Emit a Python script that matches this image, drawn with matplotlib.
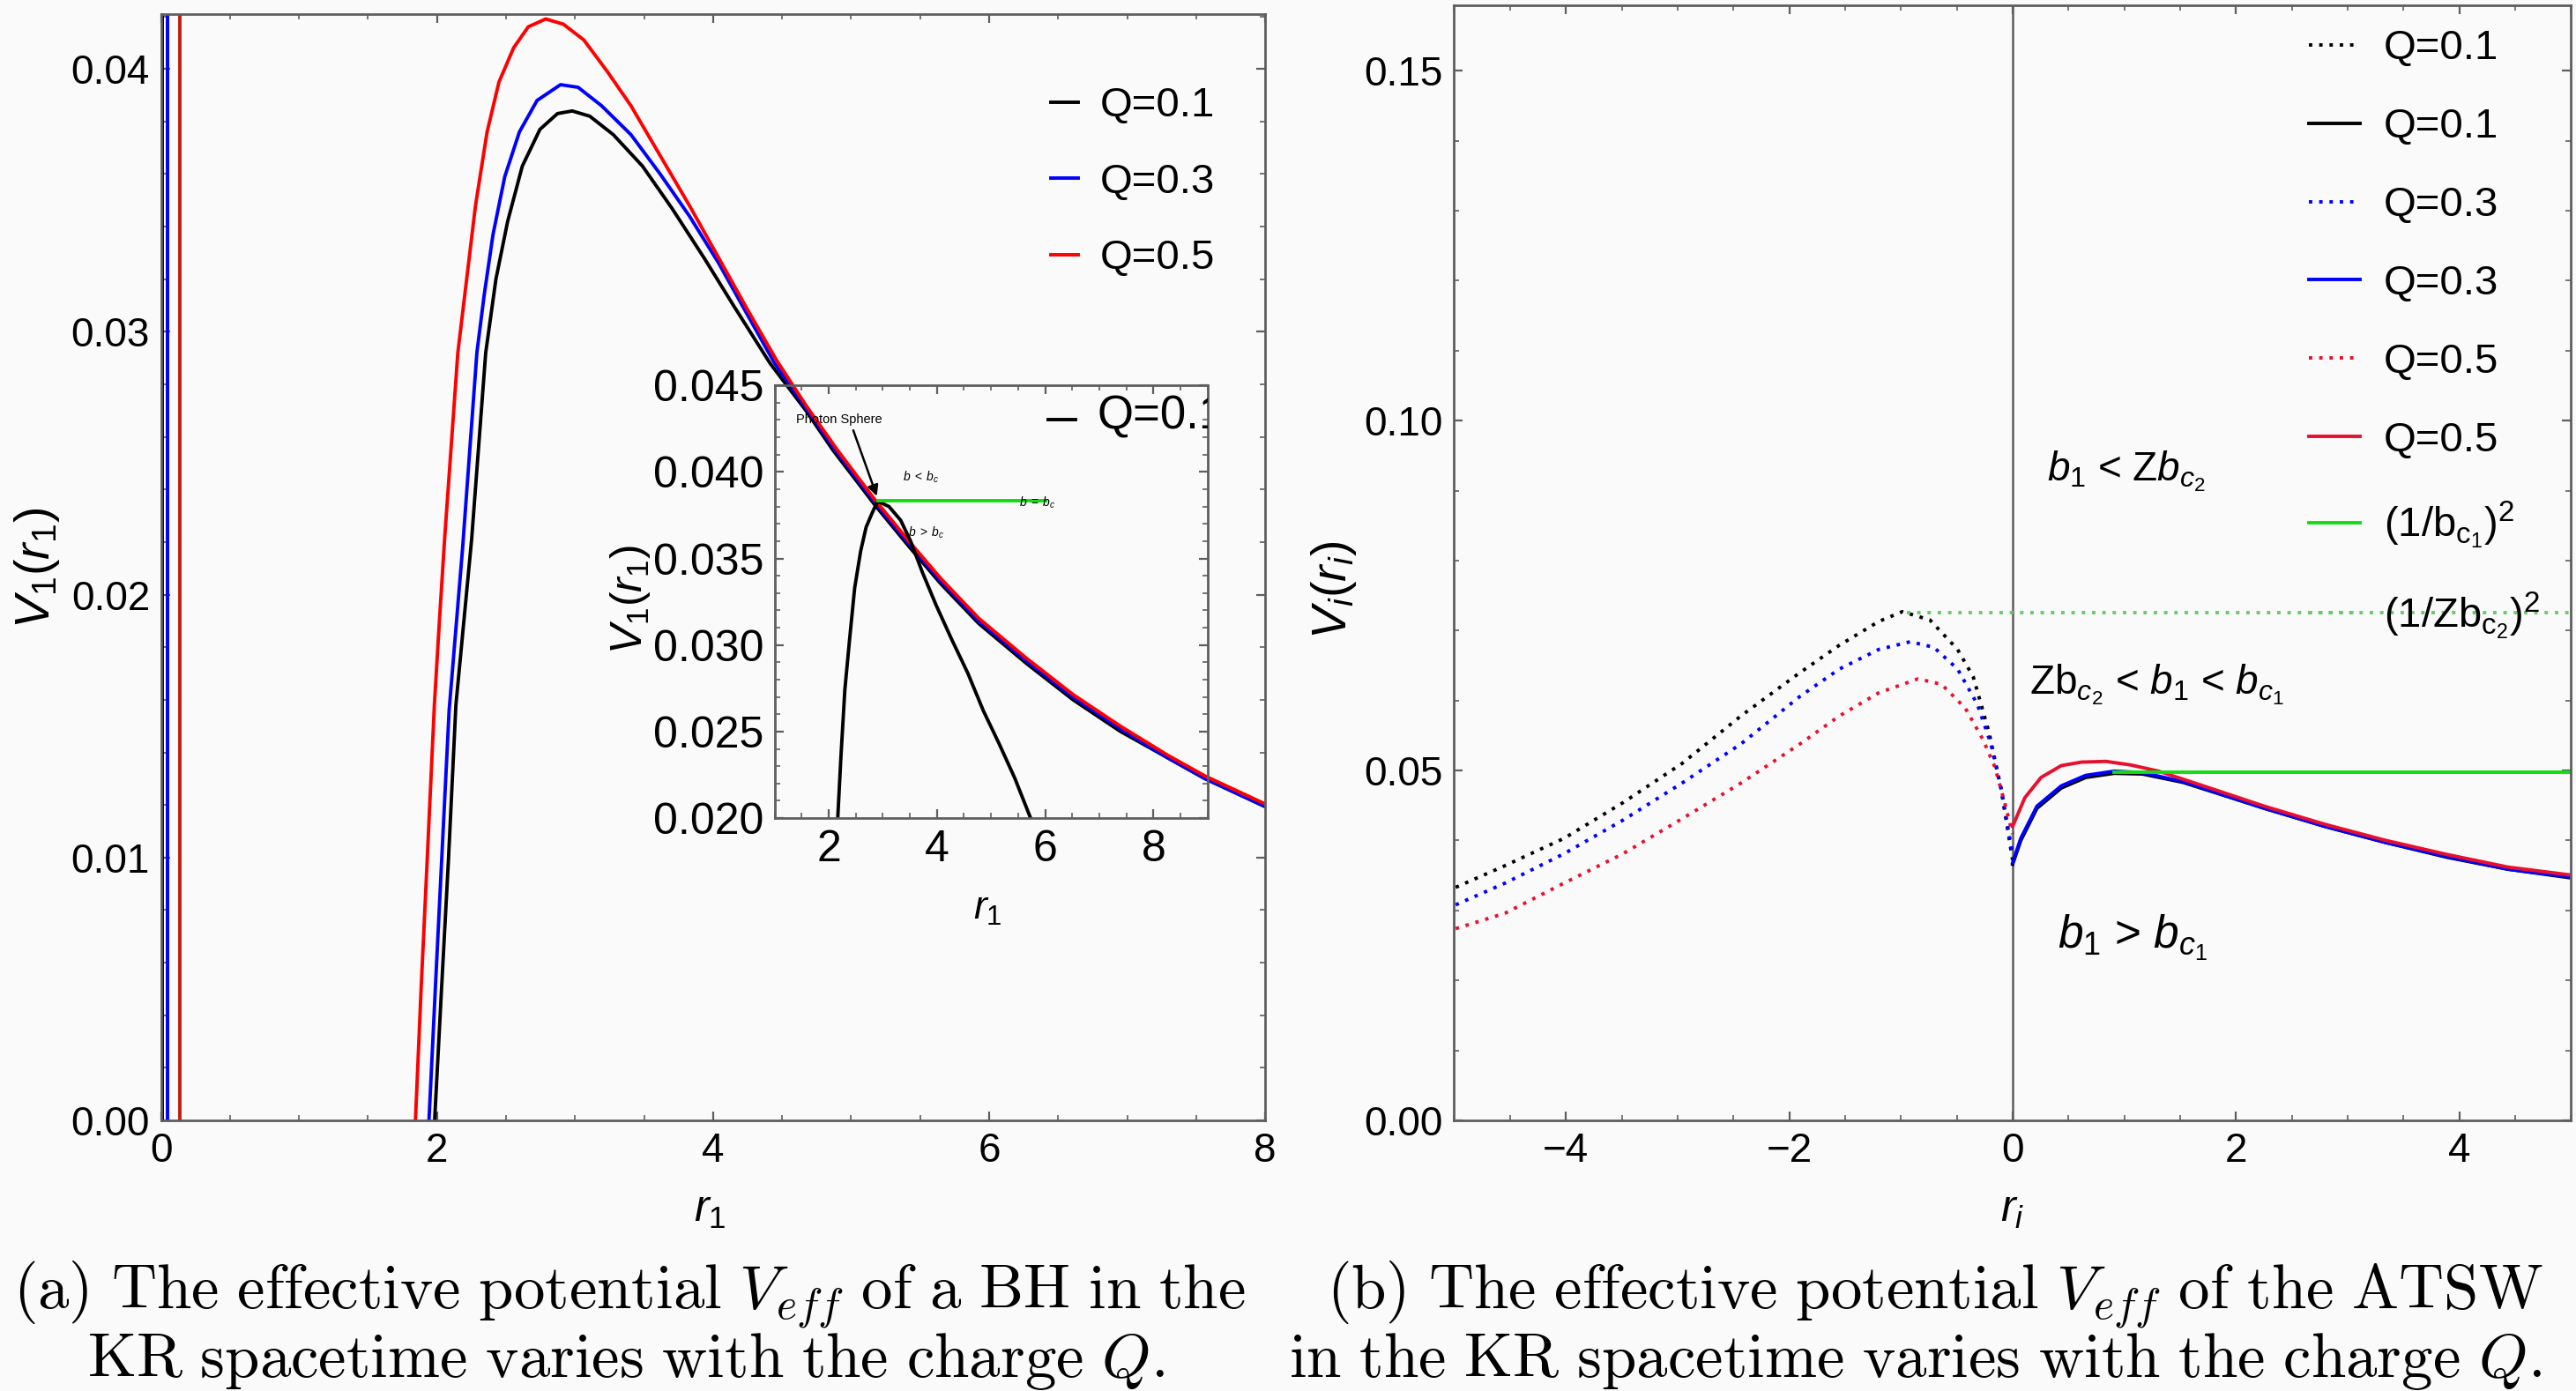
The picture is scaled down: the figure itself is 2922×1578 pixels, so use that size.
import numpy as np
import matplotlib.pyplot as plt
from matplotlib.ticker import MultipleLocator, FormatStrFormatter
from matplotlib.lines import Line2D

plt.rcParams['font.family'] = ['Liberation Sans', 'DejaVu Sans']
plt.rcParams['mathtext.fontset'] = 'custom'
plt.rcParams['mathtext.rm'] = 'Liberation Sans'
plt.rcParams['mathtext.it'] = 'Liberation Sans:italic'
plt.rcParams['mathtext.bf'] = 'Liberation Sans:bold'

# --- (a) BH potential ---
r1_q1 = [1.983, 2.033, 2.083, 2.137, 2.251, 2.353, 2.427, 2.512, 2.618, 2.746, 2.873,
         2.980, 3.107, 3.277, 3.489, 3.702, 3.936, 4.148, 4.413, 4.673, 4.868, 5.174,
         5.424, 5.652, 5.925, 6.266, 6.608, 6.950, 7.291, 7.564, 8.015]
V1_q1 = [0.0, 0.0050, 0.0099, 0.0158, 0.0221, 0.0292, 0.0320, 0.0342, 0.0363, 0.0377, 0.0383,
         0.0384, 0.0382, 0.0375, 0.0363, 0.0347, 0.0328, 0.0310, 0.0288, 0.0270, 0.0255, 0.0234,
         0.0218, 0.0204, 0.0189, 0.0174, 0.0160, 0.0148, 0.0138, 0.0130, 0.0119]
r1_q3 = [1.942, 1.988, 2.034, 2.088, 2.186, 2.289, 2.342, 2.406, 2.491, 2.597, 2.725,
         2.895, 3.022, 3.192, 3.405, 3.617, 3.829, 4.042, 4.254, 4.446, 4.673, 4.885,
         5.174, 5.424, 5.652, 5.925, 6.266, 6.608, 6.950, 7.291, 7.564, 8.015]
V1_q3 = [0.0, 0.0050, 0.0099, 0.0156, 0.0218, 0.0292, 0.0314, 0.0337, 0.0359, 0.0376, 0.0388,
         0.0394, 0.0393, 0.0386, 0.0375, 0.0360, 0.0344, 0.0326, 0.0306, 0.0288, 0.0271, 0.0255,
         0.0235, 0.0219, 0.0205, 0.0190, 0.0175, 0.0161, 0.0149, 0.0138, 0.0130, 0.0119]
r1_q5 = [1.844, 1.885, 1.929, 1.981, 2.020, 2.055, 2.151, 2.215, 2.279, 2.363, 2.449,
         2.555, 2.661, 2.788, 2.916, 3.064, 3.234, 3.405, 3.617, 3.829, 4.042, 4.254,
         4.462, 4.673, 4.901, 5.174, 5.424, 5.652, 5.925, 6.266, 6.608, 6.950, 7.291,
         7.564, 8.015]
V1_q5 = [0.0, 0.0050, 0.0099, 0.0158, 0.0192, 0.0221, 0.0292, 0.0320, 0.0348, 0.0376, 0.0395,
         0.0408, 0.0416, 0.0419, 0.0417, 0.0411, 0.0399, 0.0386, 0.0367, 0.0348, 0.0328, 0.0308,
         0.0289, 0.0272, 0.0255, 0.0236, 0.0220, 0.0206, 0.0191, 0.0176, 0.0162, 0.0150, 0.0139,
         0.0131, 0.0120]
wall_r = [0.01, 0.045, 0.135]          # near-vertical branches close to r=0

# inset
ri_b = [2.167, 2.225, 2.298, 2.385, 2.480, 2.589, 2.691, 2.785, 2.858, 2.909,
        3.113, 3.331, 3.513, 3.731, 3.985, 4.276, 4.567, 4.858, 5.149, 5.440, 5.731]
Vi_b = [0.0200, 0.0235, 0.0274, 0.0303, 0.0333, 0.0354, 0.0368, 0.0375, 0.0380, 0.0383,
        0.0380, 0.0372, 0.0360, 0.0342, 0.0323, 0.0303, 0.0284, 0.0262, 0.0243, 0.0223, 0.0200]
ri_green = [2.91, 6.0]
Vi_green = [0.03835, 0.03835]

# --- (b) ATSW potential ---
rn_q1 = [-4.986, -4.545, -4.017, -3.489, -2.960, -2.432, -1.903, -1.551, -1.198, -0.987,
         -0.740, -0.493, -0.353, -0.212, -0.106, 0.0]
Vn_q1 = [0.0333, 0.0364, 0.0403, 0.0454, 0.0510, 0.0578, 0.0640, 0.0679, 0.0713, 0.0727,
         0.0715, 0.0673, 0.0634, 0.0555, 0.0476, 0.0372]
rn_q3 = [-4.986, -4.545, -4.017, -3.489, -2.960, -2.432, -1.903, -1.551, -1.198, -0.916,
         -0.705, -0.493, -0.317, -0.194, -0.099, 0.0]
Vn_q3 = [0.0308, 0.0339, 0.0381, 0.0429, 0.0482, 0.0538, 0.0606, 0.0645, 0.0673, 0.0684,
         0.0676, 0.0645, 0.0595, 0.0538, 0.0471, 0.0380]
rn_q5 = [-4.986, -4.545, -4.017, -3.489, -2.960, -2.432, -1.903, -1.551, -1.198, -0.846,
         -0.635, -0.423, -0.265, -0.159, -0.071, 0.0]
Vn_q5 = [0.0274, 0.0296, 0.0339, 0.0381, 0.0431, 0.0482, 0.0538, 0.0578, 0.0611, 0.0631,
         0.0623, 0.0589, 0.0544, 0.0505, 0.0454, 0.0409]

rp_q1 = [0.0, 0.073, 0.218, 0.436, 0.654, 0.909, 1.163, 1.526, 2.253, 2.798, 3.343, 3.888, 4.433, 4.978]
Vp_q1 = [0.0366, 0.0400, 0.0446, 0.0475, 0.0490, 0.0496, 0.0495, 0.0483, 0.0446, 0.0420, 0.0397, 0.0376, 0.0359, 0.0347]
rp_q3 = [0.0, 0.073, 0.218, 0.436, 0.654, 0.909, 1.163, 1.526, 2.253, 2.798, 3.343, 3.888, 4.433, 4.978]
Vp_q3 = [0.0368, 0.0403, 0.0449, 0.0478, 0.0493, 0.0499, 0.0497, 0.0484, 0.0446, 0.0420, 0.0397, 0.0377, 0.0359, 0.0348]
rp_q5 = [0.0, 0.109, 0.254, 0.436, 0.617, 0.836, 1.054, 1.308, 1.708, 2.253, 2.798, 3.343, 3.888, 4.433, 4.978]
Vp_q5 = [0.0420, 0.0461, 0.0490, 0.0507, 0.0512, 0.0513, 0.0508, 0.0499, 0.0478, 0.0449, 0.0423, 0.0400, 0.0380, 0.0362, 0.0351]
r_bc1 = [0.909, 5.0]
V_bc1 = [0.0497, 0.0497]
r_zbc2 = [-0.95, 5.0]
V_zbc2 = [0.0726, 0.0726]

labels_a = ["Q=0.1", "Q=0.3", "Q=0.5"]
labels_b = ["Q=0.1", "Q=0.1", "Q=0.3", "Q=0.3", "Q=0.5", "Q=0.5",
            r"$(1/\mathrm{b}_{\mathrm{c}_1})^2$", r"$(1/\mathrm{Zb}_{\mathrm{c}_2})^2$"]

bg = '#fafafa'
gray = '#5e5e5e'
red_b = '#e8102e'
green = '#11dd11'
dot = (0, (1, 2))
lw = 2.8

fig = plt.figure(figsize=(29.22, 15.78), dpi=100, facecolor=bg)
ax1 = fig.add_axes([0.06246, 0.19455, 0.4287, 0.7956], facecolor=bg)
ax2 = fig.add_axes([0.5645, 0.19455, 0.4336, 0.8019], facecolor=bg)
axin = fig.add_axes([0.3007, 0.41185, 0.16804, 0.31115])
axin.patch.set_alpha(0)


def frame(ax, size):
    for s in ax.spines.values():
        s.set_color(gray)
        s.set_linewidth(2.0)
    ax.tick_params(which='both', direction='in', top=True, right=True, color=gray)
    ax.tick_params(which='major', length=7, width=1.6, labelsize=size, pad=9)
    ax.tick_params(which='minor', length=4, width=1.2)


# (a)
for r, c in zip(wall_r, ['k', 'blue', '#c02010']):
    ax1.axvline(r, color=c, lw=lw)
ax1.plot(r1_q1, V1_q1, color='k', lw=lw)
ax1.plot(r1_q3, V1_q3, color='blue', lw=lw)
ax1.plot(r1_q5, V1_q5, color='red', lw=lw)
ax1.set_xlim(0, 8)
ax1.set_ylim(0, 0.0421)
ax1.xaxis.set_major_locator(MultipleLocator(2))
ax1.xaxis.set_minor_locator(MultipleLocator(0.5))
ax1.yaxis.set_major_locator(MultipleLocator(0.01))
ax1.yaxis.set_minor_locator(MultipleLocator(0.002))
ax1.yaxis.set_major_formatter(FormatStrFormatter('%.2f'))
frame(ax1, 33)
h_a = [Line2D([], [], color=c, lw=lw) for c in ['k', 'blue', 'red']]
ax1.legend(h_a, labels_a, loc='upper left', bbox_to_anchor=(0.8058, 0.934), frameon=False,
           fontsize=34, handlelength=0.66, handletextpad=0.53, labelspacing=0.9,
           borderaxespad=0, borderpad=0)

# inset
axin.plot(ri_b, Vi_b, color='k', lw=lw)
axin.plot(ri_green, Vi_green, color=green, lw=lw)
axin.set_xlim(1, 9)
axin.set_ylim(0.02, 0.045)
axin.xaxis.set_major_locator(MultipleLocator(2))
axin.xaxis.set_minor_locator(MultipleLocator(0.5))
axin.yaxis.set_major_locator(MultipleLocator(0.005))
axin.yaxis.set_minor_locator(MultipleLocator(0.001))
axin.yaxis.set_major_formatter(FormatStrFormatter('%.3f'))
frame(axin, 36)
axin.annotate('', xy=(2.889, 0.0386), xytext=(2.454, 0.0424),
              arrowprops=dict(arrowstyle='-|>', color='k', lw=1.8, mutation_scale=18,
                              shrinkA=0, shrinkB=0))
axin.text(2.199, 0.0430, "Photon Sphere", fontsize=10.5, ha='center', va='center')
axin.text(3.70, 0.0397, r"$b\;<\;b_c$", fontsize=10, ha='center', va='center')
axin.text(5.85, 0.0382, r"$b\;=\;b_c$", fontsize=10, ha='center', va='center')
axin.text(3.81, 0.0365, r"$b\;>\;b_c$", fontsize=10, ha='center', va='center')
# legend cut by the inset frame: key from legend, label clipped to the axes
leg_in = axin.legend([Line2D([], [], color='k', lw=lw)], [" "], loc='upper left',
                     bbox_to_anchor=(0.632, 0.957), frameon=False, fontsize=34,
                     handlelength=0.66, handletextpad=0.53, borderaxespad=0, borderpad=0)
axin.text(0.745, 0.928, "Q=0.1", fontsize=38, ha='left', va='center',
          transform=axin.transAxes, clip_on=True)

# (b)
ax2.axvline(0, color=gray, lw=1.8)
ax2.plot(rn_q1, Vn_q1, color='k', lw=lw, ls=dot)
ax2.plot(rp_q1, Vp_q1, color='k', lw=lw)
ax2.plot(rn_q3, Vn_q3, color='blue', lw=lw, ls=dot)
ax2.plot(rp_q3, Vp_q3, color='blue', lw=lw)
ax2.plot(rn_q5, Vn_q5, color=red_b, lw=lw, ls=dot)
ax2.plot(rp_q5, Vp_q5, color=red_b, lw=lw)
ax2.plot(r_bc1, V_bc1, color=green, lw=lw)
ax2.plot(r_zbc2, V_zbc2, color='#66cc66', lw=lw, ls=dot)
ax2.set_xlim(-5, 5)
ax2.set_ylim(0, 0.1594)
ax2.xaxis.set_major_locator(MultipleLocator(2))
ax2.xaxis.set_minor_locator(MultipleLocator(0.5))
ax2.yaxis.set_major_locator(MultipleLocator(0.05))
ax2.yaxis.set_minor_locator(MultipleLocator(0.01))
ax2.yaxis.set_major_formatter(FormatStrFormatter('%.2f'))
frame(ax2, 33)
styles = [('k', dot), ('k', '-'), ('blue', dot), ('blue', '-'), (red_b, dot), (red_b, '-'),
          (green, '-'), ('#66cc66', dot)]
h_b = [Line2D([], [], color=c, lw=lw, ls=s) for c, s in styles]
ax2.legend(h_b, labels_b, loc='upper left', bbox_to_anchor=(0.765, 0.978), frameon=False,
           fontsize=34, handlelength=1.23, handletextpad=0.57, labelspacing=0.95,
           borderaxespad=0, borderpad=0)
ax2.text(1.017, 0.0928, r"$b_1$ < Z$b_{c_2}$", fontsize=33, ha='center', va='center')
ax2.text(1.29, 0.0623, r"Z$\mathrm{b}_{c_2}$ < $b_1$ < $b_{c_1}$", fontsize=33,
         ha='center', va='center')
ax2.text(1.072, 0.0261, r"$b_1$ > $b_{c_1}$", fontsize=37, ha='center', va='center')

# axis labels
fig.text(0.01437, 0.5913, r"$V_1(r_1)$", fontsize=40, rotation=90, ha='center', va='center')
fig.text(0.2755, 0.1299, r"$r_1$", fontsize=36, ha='center', va='center')
fig.text(0.5178, 0.5760, r"$V_i(r_i)$", fontsize=40, rotation=90, ha='center', va='center')
fig.text(0.7813, 0.1299, r"$r_i$", fontsize=36, ha='center', va='center')
fig.text(0.2447, 0.5691, r"$V_1(r_1)$", fontsize=36, rotation=90, ha='center', va='center')
fig.text(0.3833, 0.3466, r"$r_1$", fontsize=32, ha='center', va='center')

# captions
cap = dict(fontsize=51, ha='center', va='baseline', math_fontfamily='cm')
fig.text(714 / 2922, 0.0589, r"$\mathrm{(a)\ The\ effective\ potential\ }V_{eff}\mathrm{\ of\ a\ BH\ in\ the}$", **cap)
fig.text(710 / 2922, 0.0101, r"$\mathrm{KR\ spacetime\ varies\ with\ the\ charge\ }Q\mathrm{.}$", **cap)
fig.text(2195 / 2922, 0.0589, r"$\mathrm{(b)\ The\ effective\ potential\ }V_{eff}\mathrm{\ of\ the\ ATSW}$", **cap)
fig.text(2172 / 2922, 0.0101, r"$\mathrm{in\ the\ KR\ spacetime\ varies\ with\ the\ charge\ }Q\mathrm{.}$", **cap)

fig.savefig("out.png", dpi=100, facecolor=bg)
